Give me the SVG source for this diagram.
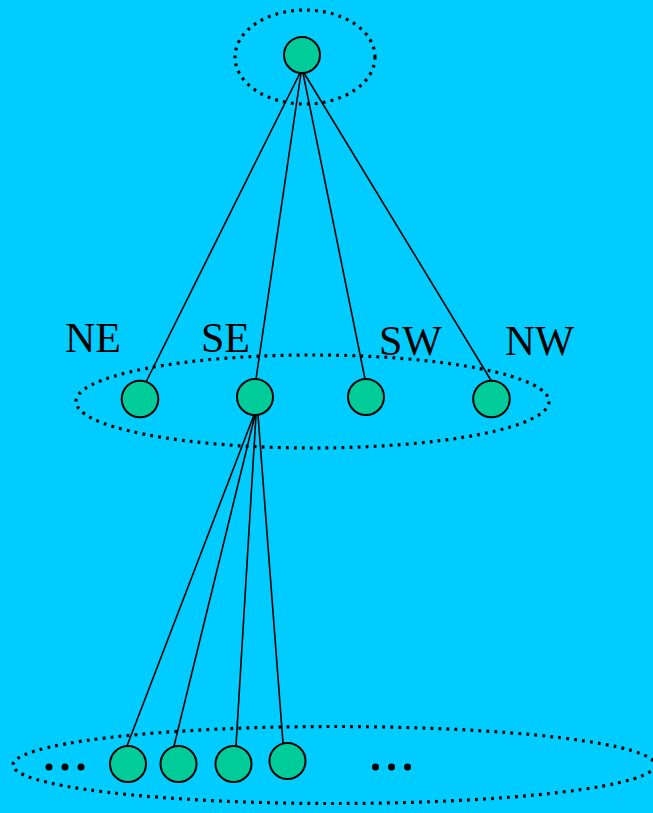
<svg xmlns="http://www.w3.org/2000/svg" width="653" height="813" viewBox="0 0 653 813">
<style>
.bg{fill:#00CCFF}
.grp{fill:none;stroke:#000;stroke-width:3.2;stroke-dasharray:2.8 5.2}
.node{fill:#00CC99;stroke:#000;stroke-width:2}
.edge{stroke:#000;stroke-width:1.6;fill:none}
.lbl{font-family:"Liberation Serif","Times New Roman",serif;font-size:42px;fill:#000}
.dot{fill:#000}
</style>
<rect class="bg" x="0" y="0" width="653" height="813"/>
<g id="groups">
<ellipse id="g-top" class="grp" cx="305" cy="57" rx="70" ry="47"/>
<ellipse id="g-mid" class="grp" cx="312.5" cy="401.5" rx="236.5" ry="46.5"/>
<ellipse id="g-bot" class="grp" cx="334" cy="765" rx="321" ry="38.5"/>
</g>
<g id="connectors">
<line class="edge" x1="300" y1="73" x2="146" y2="382"/>
<line class="edge" x1="301" y1="73" x2="256" y2="379"/>
<line class="edge" x1="303" y1="73" x2="365" y2="379"/>
<line class="edge" x1="304" y1="73" x2="492" y2="382"/>
<line class="edge" x1="254" y1="415" x2="127" y2="746"/>
<line class="edge" x1="255" y1="415" x2="174" y2="746"/>
<line class="edge" x1="256" y1="415" x2="236" y2="746"/>
<line class="edge" x1="258" y1="415" x2="283" y2="743"/>
</g>
<g id="root"><circle class="node" cx="302" cy="55" r="18"/></g>
<g id="ne"><circle class="node" cx="140" cy="399" r="18.3"/></g>
<g id="se"><circle class="node" cx="255" cy="397" r="18"/></g>
<g id="sw"><circle class="node" cx="366" cy="397" r="18"/></g>
<g id="nw"><circle class="node" cx="491.5" cy="399" r="18.3"/></g>
<g id="c1"><circle class="node" cx="128" cy="764" r="18"/></g>
<g id="c2"><circle class="node" cx="178.5" cy="764" r="18"/></g>
<g id="c3"><circle class="node" cx="233.5" cy="764" r="18"/></g>
<g id="c4"><circle class="node" cx="287.5" cy="761" r="18"/></g>
<g id="labels">
<text class="lbl" x="65" y="352" textLength="56" lengthAdjust="spacingAndGlyphs">NE</text>
<text class="lbl" x="201" y="352" textLength="49" lengthAdjust="spacingAndGlyphs">SE</text>
<text class="lbl" x="379" y="355" textLength="63" lengthAdjust="spacingAndGlyphs">SW</text>
<text class="lbl" x="505" y="355" textLength="69" lengthAdjust="spacingAndGlyphs">NW</text>
</g>
<g id="ellipsis-left">
<circle class="dot" cx="49" cy="767" r="3.5"/>
<circle class="dot" cx="65" cy="767" r="3.5"/>
<circle class="dot" cx="81" cy="767" r="3.5"/>
</g>
<g id="ellipsis-right">
<circle class="dot" cx="375.5" cy="767" r="3.5"/>
<circle class="dot" cx="391.5" cy="767" r="3.5"/>
<circle class="dot" cx="407.5" cy="767" r="3.5"/>
</g>
</svg>
